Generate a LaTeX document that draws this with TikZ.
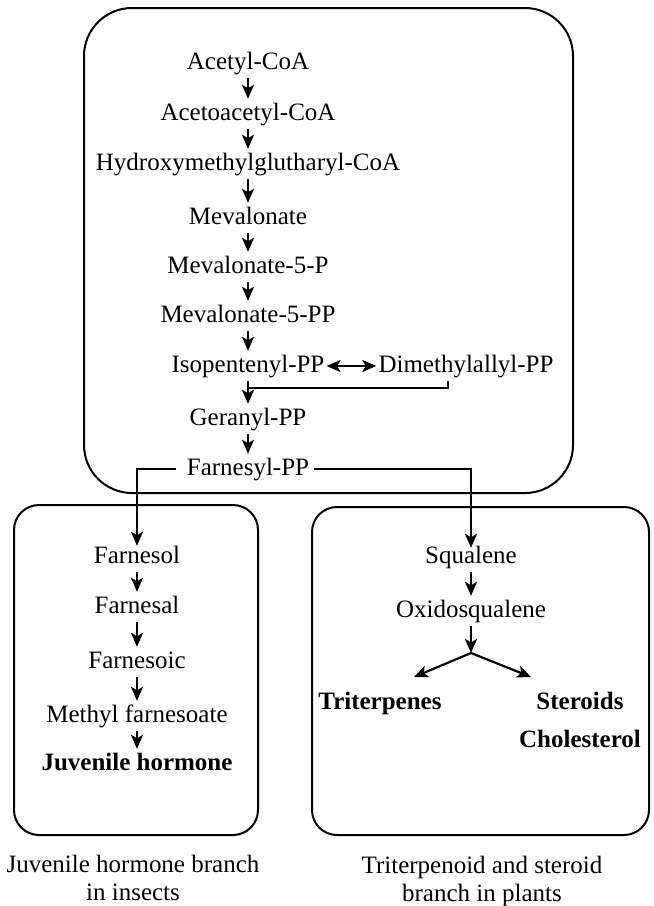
\documentclass[tikz,border=0pt]{standalone}
\usepackage{fontspec}
\setmainfont{Liberation Serif}
\usetikzlibrary{arrows.meta,calc}
\begin{document}
\begin{tikzpicture}[x=1pt,y=-1pt,
  lbl/.style={anchor=base,inner xsep=2pt,inner ysep=4pt,text height=17pt,text depth=5pt,font=\fontsize{25}{28}\selectfont},
  blbl/.style={lbl,font=\fontsize{25}{28}\selectfont\bfseries},
  capt/.style={align=center,font=\fontsize{25}{28}\selectfont,inner sep=0pt,anchor=north},
  box/.style={draw,line width=2pt},
  ln/.style={line width=2.2pt},
  arr/.style={line width=2.2pt,-{Stealth[length=14pt,width=12pt,inset=3.5pt]}},
  darr/.style={line width=2.2pt,{Stealth[length=14pt,width=12pt,inset=3.5pt]}-{Stealth[length=14pt,width=12pt,inset=3.5pt]}},
]
\useasboundingbox (0,0) rectangle (654,906);
% boxes
\draw[box,rounded corners=48pt] (84,8) rectangle (573,493);
\draw[box,rounded corners=25pt] (14,505) rectangle (258,835);
\draw[box,rounded corners=25pt] (312,507) rectangle (649,835);
% main pathway
\node[lbl] (ac)  at (248,69)  {Acetyl-CoA};
\node[lbl] (aac) at (248,120) {Acetoacetyl-CoA};
\node[lbl] (hmg) at (248,170) {Hydroxymethylglutharyl-CoA};
\node[lbl] (mev) at (248,224) {Mevalonate};
\node[lbl] (m5p) at (248,273) {Mevalonate-5-P};
\node[lbl] (m5pp) at (248,322) {Mevalonate-5-PP};
\node[lbl] (ip)  at (248,372) {Isopentenyl-PP};
\node[lbl] (dm)  at (466,372) {Dimethylallyl-PP};
\node[lbl] (gp)  at (248,425) {Geranyl-PP};
\node[lbl] (fp)  at (248,475) {Farnesyl-PP};
\draw[arr] (ac) -- (aac);
\draw[arr] (aac) -- (hmg);
\draw[arr] (hmg) -- (mev);
\draw[arr] (mev) -- (m5p);
\draw[arr] (m5p) -- (m5pp);
\draw[arr] (m5pp) -- (ip);
\draw[darr] (ip.east) -- (dm.west);
\draw[arr] (ip) -- (gp);
\coordinate (bj) at (248,388);
\draw[ln] ($(dm.south)+(-18,0)$) |- (bj);
\draw[arr] (gp) -- (fp);
% juvenile hormone branch
\node[lbl] (fol) at (137,563) {Farnesol};
\node[lbl] (fal) at (137,613) {Farnesal};
\node[lbl] (foic) at (137,668) {Farnesoic};
\node[lbl] (mf)  at (137,722) {Methyl farnesoate};
\node[blbl] (jh) at (137,770) {Juvenile hormone};
\draw[arr] ([xshift=-9pt]fp.west) -| ([yshift=-4pt]fol.north);
\draw[arr] (fol) -- (fal);
\draw[arr] (fal) -- (foic);
\draw[arr] (foic) -- (mf);
\draw[arr] (mf) -- (jh);
% triterpenoid branch
\node[lbl] (sq) at (471,563) {Squalene};
\node[lbl] (ox) at (471,617) {Oxidosqualene};
\node[blbl] (tri) at (380,709) {Triterpenes};
\node[blbl] (ste) at (580,709) {Steroids};
\node[blbl] (cho) at (580,747) {Cholesterol};
\draw[arr] ([xshift=3pt]fp.east) -| ([yshift=-6pt]sq.north);
\draw[arr] (sq) -- (ox);
\coordinate (jn) at (471,653);
\coordinate (jl) at (414,677);
\coordinate (jr) at (531,677);
\draw[arr] (ox) -- (jn);
\draw[arr] (jn) -- (jl);
\draw[arr] (jn) -- (jr);
% captions
\node[capt] (c1) at (133,855) {Juvenile hormone branch\\in insects};
\node[capt] (c2) at (482,856) {Triterpenoid and steroid\\branch in plants};
\end{tikzpicture}
\end{document}
